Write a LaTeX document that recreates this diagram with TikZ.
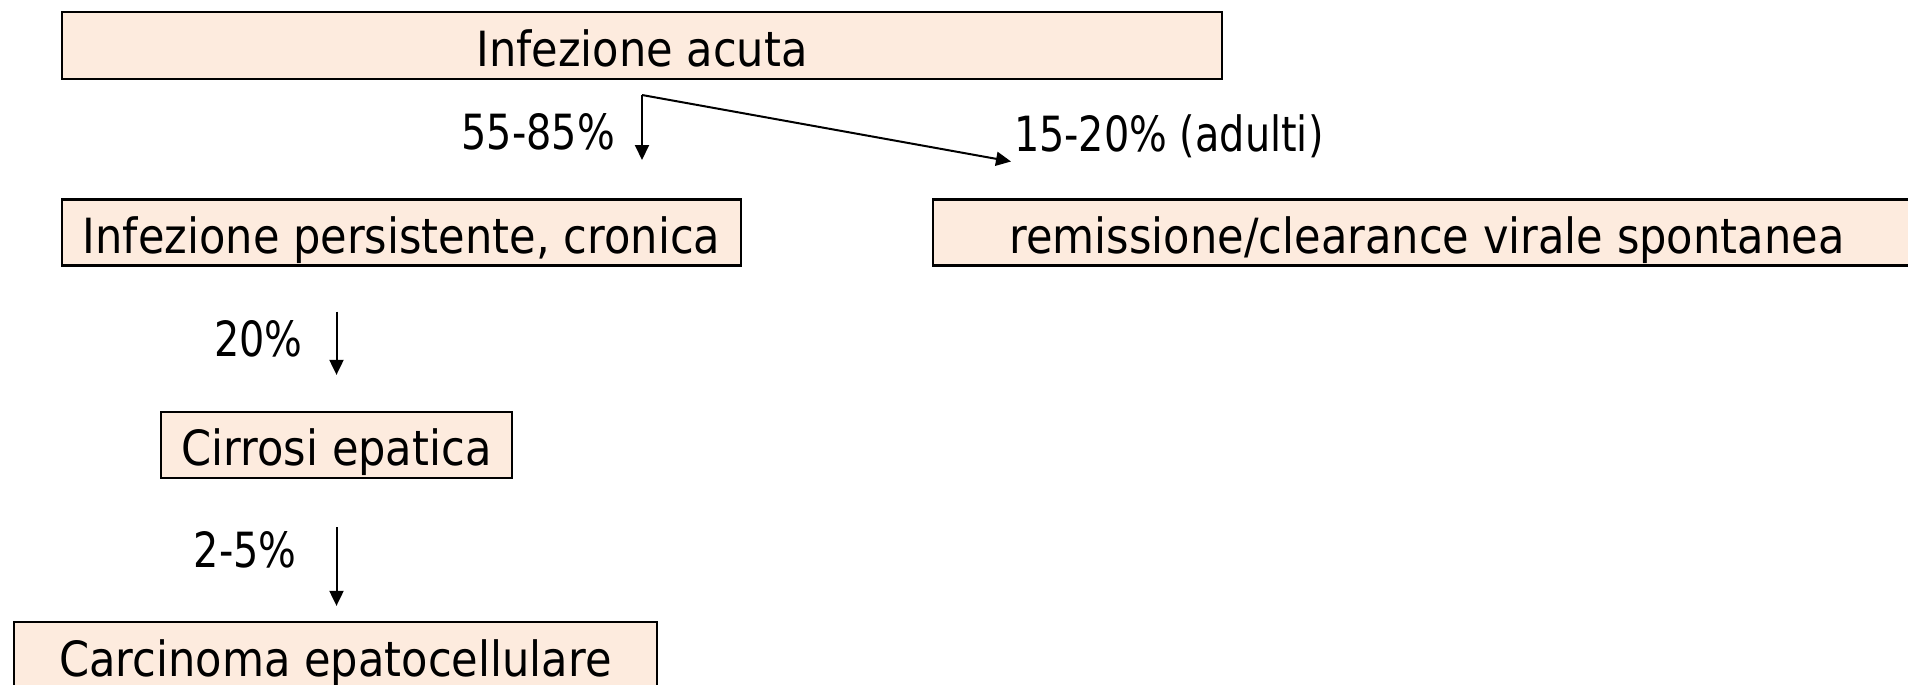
\documentclass[tikz,border=0pt]{standalone}
\usepackage{fontspec}
\setmainfont{DejaVu Sans}[FakeStretch=0.89]
\newfontfamily\ratefont{DejaVu Sans}[FakeStretch=0.82]
\usepackage{xcolor}
\usepackage{tikz}
\usetikzlibrary{arrows.meta,positioning,calc}
\definecolor{boxpeach}{RGB}{253,235,222}

\begin{document}
\begin{tikzpicture}[
    stage/.style={rectangle, draw, fill=boxpeach, line width=0.65pt, inner sep=0pt, text height=11.8pt, text depth=0pt, font=\fontsize{13.8}{16}\selectfont},
    flow/.style={-{Triangle[length=0.15cm, width=0.14cm]}, line width=0.57pt},
    rate/.style={font=\ratefont\fontsize{13.8}{16}\selectfont, inner sep=0pt}
]
\useasboundingbox (0,0) rectangle (19.08,-6.84);
% Nodes
\node[stage, minimum width=11.60cm, minimum height=0.67cm] (acuta) at (6.42,-0.455) {Infezione acuta};
\node[stage, minimum width=6.79cm, minimum height=0.66cm] (cronica) at (4.015,-2.325) {Infezione persistente, cronica};
\node[stage, minimum width=9.88cm, minimum height=0.66cm] (remiss) at (14.27,-2.325) {remissione/clearance virale spontanea};
\node[stage, minimum width=3.51cm, minimum height=0.66cm] (cirrosi) at (3.365,-4.45) {Cirrosi epatica};
\node[stage, minimum width=6.43cm, minimum height=0.67cm] (hcc) at (3.355,-6.555) {Carcinoma epatocellulare};

\coordinate (split) at (6.42,-0.95);
\coordinate (toCron) at (6.42,-1.60);
\coordinate (toRem) at (10.11,-1.615);

% Edges
\draw[flow] (split) -- node[rate, pos=0.57, left=0.26cm] {55-85\%} (toCron);
\draw[flow] (split) -- (toRem) node[rate, anchor=base west, xshift=0.02cm, yshift=0.105cm] {15-20\% (adulti)};
\draw[flow, shorten <=0.45cm, shorten >=0.36cm] (cronica.south -| cirrosi.north) -- node[rate, left=0.33cm] {20\%} (cirrosi.north);
\draw[flow, shorten <=0.48cm, shorten >=0.15cm] (cirrosi.south) -- node[rate, left=0.39cm] {2-5\%} (cirrosi.south |- hcc.north);
\end{tikzpicture}
\end{document}
